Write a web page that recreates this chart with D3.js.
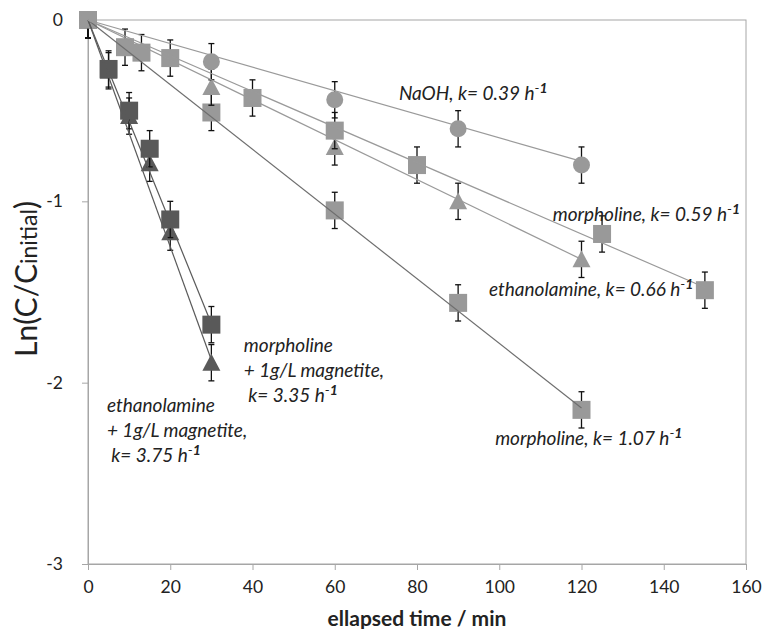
<!DOCTYPE html>
<meta charset="utf-8">
<style>
  body { margin: 0; background: #fff; }
  text { font-family: Lato, "Liberation Sans", sans-serif; }
</style>
<body>
<div id="chart"></div>
<script src="https://cdn.jsdelivr.net/npm/d3@7"></script>
<script>
// ---- data ----
const naohT = [0, 30, 60, 90, 120];
const naohV = [0, -0.23, -0.44, -0.60, -0.80];

const morphSlowT = [0, 13, 20, 40, 60, 80, 125, 150];
const morphSlowV = [0, -0.18, -0.21, -0.43, -0.61, -0.80, -1.18, -1.49];

const ethT = [0, 30, 60, 90, 120];
const ethV = [0, -0.37, -0.70, -1.00, -1.32];

const morphFastT = [0, 9, 30, 60, 90, 120];
const morphFastV = [0, -0.15, -0.51, -1.05, -1.56, -2.15];

const morphMagT = [0, 5, 10, 15, 20, 30];
const morphMagV = [0, -0.27, -0.50, -0.71, -1.10, -1.68];

const ethMagT = [0, 5, 10, 15, 20, 30];
const ethMagV = [0, -0.28, -0.53, -0.79, -1.17, -1.89];

// rate constants (h^-1) from the labels, used for the fitted lines
const kValues = { naoh: 0.39, morphSlow: 0.59, eth: 0.66, morphFast: 1.07, morphMag: 3.35, ethMag: 3.75 };
const errBar = 0.1;

const xTicks = [0, 20, 40, 60, 80, 100, 120, 140, 160];
const yTicks = [0, -1, -2, -3];

// label anchors in data units: [t, lnC]
const labelNaoh = { at: [75.6, -0.44], lines: [["NaOH, k= 0.39 h", "-1"]] };
const labelMorphSlow = { at: [113, -1.11], lines: [["morpholine, k= 0.59 h", "-1"]] };
const labelEth = { at: [97.5, -1.52], lines: [["ethanolamine, k= 0.66 h", "-1"]] };
const labelMorphFast = { at: [99, -2.345], lines: [["morpholine, k= 1.07 h", "-1"]] };
const labelMorphMag = { at: [37.9, -1.83], lines: [["morpholine"], ["+ 1g/L magnetite,"], [" k= 3.35 h", "-1"]] };
const labelEthMag = { at: [4.6, -2.16], lines: [["ethanolamine"], ["+ 1g/L magnetite,"], [" k= 3.75 h", "-1"]] };

// ---- layout ----
const W = 762, H = 629;
const m = { left: 88, right: 16, top: 20, bottom: 65 };

const svg = d3.select("#chart").append("svg")
  .attr("width", W)
  .attr("height", H);

const x = d3.scaleLinear().domain([0, 160]).range([m.left, W - m.right]);
const y = d3.scaleLinear().domain([0, -3]).range([m.top, H - m.bottom]);

const light = "#999999", dark = "#595959";

// plot frame
svg.append("rect")
  .attr("x", x(0)).attr("y", y(0))
  .attr("width", x(160) - x(0)).attr("height", y(-3) - y(0))
  .attr("fill", "none").attr("stroke", "#a6a6a6").attr("stroke-width", 1);

// axes
const xAxis = svg.append("g")
  .attr("transform", `translate(0,${y(-3)})`)
  .call(d3.axisBottom(x).tickValues(xTicks).tickSize(6).tickPadding(11));
const yAxis = svg.append("g")
  .attr("transform", `translate(${x(0)},0)`)
  .call(d3.axisLeft(y).tickValues(yTicks).tickSize(6).tickPadding(19).tickFormat(d3.format("d")));

[xAxis, yAxis].forEach(g => {
  g.select(".domain").attr("stroke", "#a6a6a6");
  g.selectAll(".tick line").attr("stroke", "#a6a6a6");
  g.selectAll(".tick text").attr("fill", "#222").style("font-size", "17.5px").style("font-family", "Lato");
});
yAxis.selectAll(".tick text").text(d => d === 0 ? "0" : "-" + Math.abs(d));

// axis titles
svg.append("text")
  .attr("x", (x(0) + x(160)) / 2).attr("y", 626)
  .attr("text-anchor", "middle")
  .attr("fill", "#222")
  .style("font-size", "21px").style("font-weight", "bold")
  .text("ellapsed time / min");

const yt = svg.append("text")
  .attr("transform", "translate(37,279) rotate(-90)")
  .attr("text-anchor", "middle")
  .attr("fill", "#222")
  .style("font-size", "30px");
yt.append("tspan").text("Ln(C/C");
yt.append("tspan").style("font-size", "23px").text("initial");
yt.append("tspan").text(")");

// ---- series ----
const series = [
  { t: ethMagT, v: ethMagV, k: kValues.ethMag, shape: "tri", fill: dark, line: "#5a5a5a" },
  { t: morphMagT, v: morphMagV, k: kValues.morphMag, shape: "sq", fill: dark, line: "#5a5a5a" },
  { t: morphFastT, v: morphFastV, k: kValues.morphFast, shape: "sq", fill: light, line: "#6e6e6e" },
  { t: ethT, v: ethV, k: kValues.eth, shape: "tri", fill: light, line: "#9a9a9a" },
  { t: morphSlowT, v: morphSlowV, k: kValues.morphSlow, shape: "sq", fill: light, line: "#9a9a9a" },
  { t: naohT, v: naohV, k: kValues.naoh, shape: "circ", fill: light, line: "#9a9a9a" }
];

const marks = svg.append("g");
series.forEach(s => {
  const pts = s.t.map((t, i) => ({ t: t, v: s.v[i] }));
  const g = marks.append("g");

  // error bars (clipped at the top of the plot)
  pts.forEach(p => {
    const top = Math.min(p.v + errBar, 0), bot = p.v - errBar;
    g.append("line")
      .attr("x1", x(p.t)).attr("x2", x(p.t))
      .attr("y1", y(top)).attr("y2", y(bot))
      .attr("stroke", "#111").attr("stroke-width", 1.3);
    g.append("line")
      .attr("x1", x(p.t) - 3).attr("x2", x(p.t) + 3)
      .attr("y1", y(bot)).attr("y2", y(bot))
      .attr("stroke", "#111").attr("stroke-width", 1.3);
    if (p.v + errBar <= 0) {
      g.append("line")
        .attr("x1", x(p.t) - 3).attr("x2", x(p.t) + 3)
        .attr("y1", y(top)).attr("y2", y(top))
        .attr("stroke", "#111").attr("stroke-width", 1.3);
    }
  });

  // markers
  pts.forEach(p => {
    const cx = x(p.t), cy = y(p.v);
    if (s.shape === "sq") {
      g.append("rect").attr("x", cx - 9).attr("y", cy - 9)
        .attr("width", 18).attr("height", 18).attr("fill", s.fill);
    } else if (s.shape === "circ") {
      g.append("circle").attr("cx", cx).attr("cy", cy).attr("r", 8.5).attr("fill", s.fill);
    } else {
      g.append("path")
        .attr("d", `M${cx},${cy - 9}L${cx + 9},${cy + 8}L${cx - 9},${cy + 8}Z`)
        .attr("fill", s.fill);
    }
  });
});

// fitted first-order lines, drawn on top like the spreadsheet trendlines
series.forEach(s => {
  const tMax = d3.max(s.t);
  svg.append("line")
    .attr("x1", x(0)).attr("y1", y(0))
    .attr("x2", x(tMax)).attr("y2", y(-s.k / 60 * tMax))
    .attr("stroke", s.line).attr("stroke-width", 1.2);
});

// ---- labels ----
function addLabel(lab) {
  const t = svg.append("text")
    .attr("fill", "#222")
    .style("font-size", "19px").style("font-style", "italic");
  lab.lines.forEach((ln, i) => {
    t.append("tspan")
      .attr("x", x(lab.at[0]))
      .attr("y", y(lab.at[1]) + i * 25)
      .text(ln[0]);
    if (ln[1]) {
      t.append("tspan").attr("dy", -7).style("font-size", "14px").text("-");
      t.append("tspan").style("font-size", "14px").style("font-weight", "bold").text("1");
    }
  });
}
[labelNaoh, labelMorphSlow, labelEth, labelMorphFast, labelMorphMag, labelEthMag].forEach(l => addLabel(l));
</script>
</body>
